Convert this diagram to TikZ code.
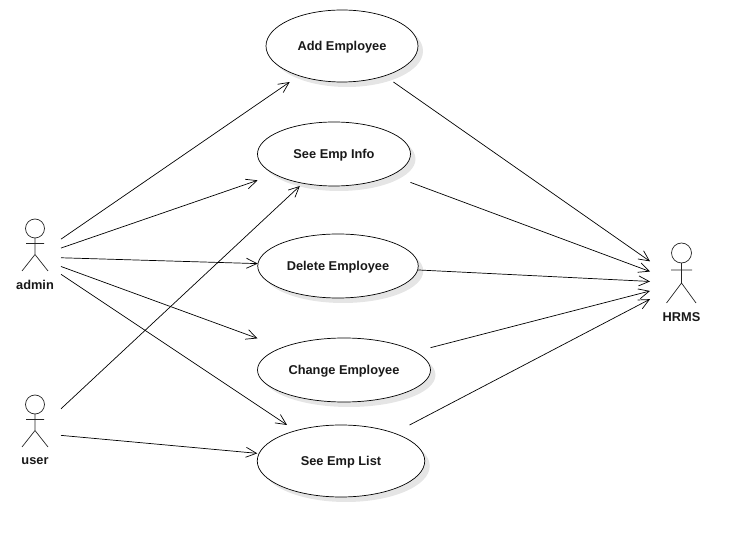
\documentclass[tikz,border=0pt]{standalone}
\usepackage{fontspec}
\setmainfont{Liberation Sans}
\usetikzlibrary{arrows.meta,shapes.geometric,shadows,fit}
\tikzset{
  usecase/.style={shape=ellipse,draw=black,fill=white,line width=0.7pt,inner sep=0pt,outer sep=0pt,
    font=\bfseries\fontsize{12.8}{14}\selectfont,text=black!90,text height=11pt,text depth=2.5pt,
    drop shadow={shadow xshift=5pt,shadow yshift=-5pt,fill=black!10,opacity=1}},
  casebox/.style={shape=rectangle,draw=none,inner sep=0pt,outer sep=0pt},
  actorbox/.style={shape=rectangle,draw=none,inner sep=0pt,outer sep=0pt,minimum height=60pt},
  actorline/.style={draw=black!85,line width=0.7pt},
  actorname/.style={font=\bfseries\fontsize{12.8}{14}\selectfont,text=black!90,inner sep=0pt},
  assoc/.style={draw=black,line width=0.7pt,-{Straight Barb[length=10.5pt,width=10pt,line width=0.7pt]}}
}
\begin{document}
\begin{tikzpicture}[x=1pt,y=-1pt]
\useasboundingbox (0,0) rectangle (753,537);
% use cases
\node[usecase,minimum width=152pt,minimum height=72pt] (addE) at (342,46) {Add Employee};
\node[usecase,minimum width=153pt,minimum height=64pt] (infoE) at (334,154) {See Emp Info};
\node[usecase,minimum width=160.5pt,minimum height=64pt] (delE) at (338,266) {Delete Employee};
\node[usecase,minimum width=173pt,minimum height=64pt] (chgE) at (344,370) {Change Employee};
\node[usecase,minimum width=167.5pt,minimum height=72pt] (listE) at (341,461) {See Emp List};
\node[casebox,fit=(addE)] (add) {};
\node[casebox,fit=(infoE)] (info) {};
\node[casebox,fit=(delE)] (del) {};
\node[casebox,fit=(chgE)] (chg) {};
\node[casebox,fit=(listE)] (list) {};
% actors
\node[actorbox,minimum width=52pt] (admin) at (35,257) {};
\node[actorbox,minimum width=52pt] (user) at (35,433) {};
\node[actorbox,minimum width=62pt] (hrms) at (681,283) {};
\draw[actorline] (35,228.5) circle (9.5);
\draw[actorline] (35,238) -- (35,254.5) (26,243.5) -- (44,243.5) (22,271) -- (35,254.5) -- (48,271);
\draw[actorline] (35,404.5) circle (9.5);
\draw[actorline] (35,414) -- (35,430.5) (26,419.5) -- (44,419.5) (22,447) -- (35,430.5) -- (48,447);
\draw[actorline] (681.5,253) circle (10);
\draw[actorline] (681.5,263) -- (681.5,283) (671,270) -- (692,270) (666.5,303) -- (681.5,283) -- (696,303);
\node[actorname] (adminlabel) at (35,285) {admin};
\node[actorname] (userlabel) at (35,461) {user};
\node[actorname] (hrmslabel) at (681.5,317) {HRMS};
% connectors
\draw[assoc] (admin) -- (add);
\draw[assoc] (admin) -- (info);
\draw[assoc] (admin) -- (del);
\draw[assoc] (admin) -- (chg);
\draw[assoc] (admin) -- (list);
\draw[assoc] (user) -- (info);
\draw[assoc] (user) -- (list);
\draw[assoc] (add) -- (hrms);
\draw[assoc] (info) -- (hrms);
\draw[assoc] (del) -- (hrms);
\draw[assoc] (chg) -- (hrms);
\draw[assoc] (list) -- (hrms);
\end{tikzpicture}
\end{document}
